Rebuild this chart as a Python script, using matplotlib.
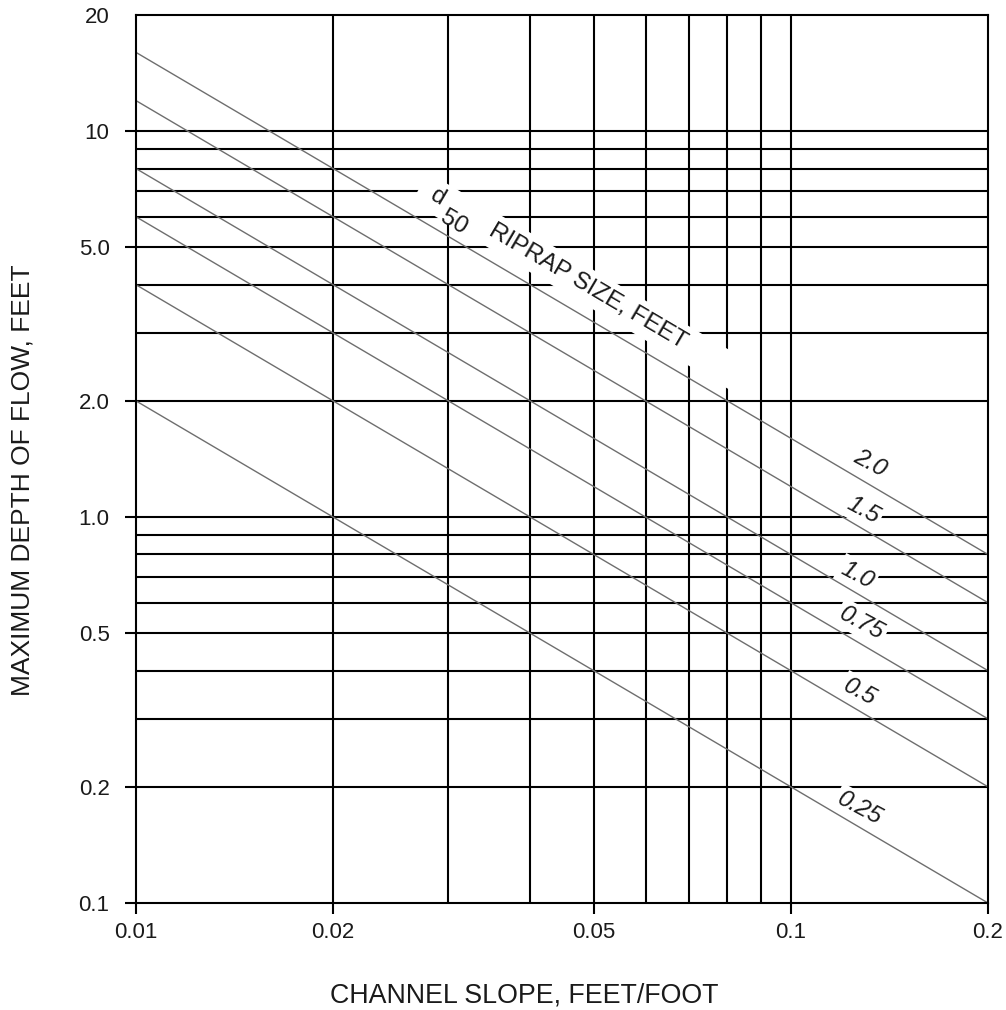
import matplotlib
matplotlib.use("Agg")
import matplotlib.pyplot as plt
from matplotlib.ticker import NullLocator, FixedLocator, FixedFormatter

plt.rcParams['font.family'] = ['Liberation Sans', 'DejaVu Sans']

# ---- data ----
d50_sizes = [2.0, 1.5, 1.0, 0.75, 0.5, 0.25]
d50_labels = ["2.0", "1.5", "1.0", "0.75", "0.5", "0.25"]
slope_ends = [0.01, 0.2]
depth_at_001 = [16.0, 12.0, 8.0, 6.0, 4.0, 2.0]
depth_at_02 = [0.8, 0.6, 0.4, 0.3, 0.2, 0.1]
label_x = [0.1321, 0.1289, 0.1262, 0.1284, 0.1275, 0.1275]
label_y = [1.381, 1.043, 0.708, 0.532, 0.352, 0.176]

x_grid = [0.02, 0.03, 0.04, 0.05, 0.06, 0.07, 0.08, 0.09, 0.1]
y_grid = [0.2, 0.3, 0.4, 0.5, 0.6, 0.7, 0.8, 0.9,
          1, 2, 3, 4, 5, 6, 7, 8, 9, 10]
x_ticks = [0.01, 0.02, 0.05, 0.1, 0.2]
x_ticklabels = ["0.01", "0.02", "0.05", "0.1", "0.2"]
y_ticks = [0.1, 0.2, 0.5, 1, 2, 5, 10, 20]
y_ticklabels = ["0.1", "0.2", "0.5", "1.0", "2.0", "5.0", "10", "20"]

fig = plt.figure(figsize=(10.06, 10.10), dpi=100)
ax = fig.add_axes([136/1006, 107/1010, 852/1006, 888/1010])
ax.set_xscale('log')
ax.set_yscale('log')
ax.set_xlim(0.01, 0.2)
ax.set_ylim(0.1, 20)

for xv in x_grid:
    ax.axvline(xv, color='black', lw=1.5, zorder=1)
for yv in y_grid:
    ax.axhline(yv, color='black', lw=1.5, zorder=1)

for d, y0, y1 in zip(d50_sizes, depth_at_001, depth_at_02):
    ax.plot(slope_ends, [y0, y1], color='#6e6e6e', lw=1.0, zorder=4,
            solid_capstyle='butt')

ROT = -30.5
for lab, lx, ly in zip(d50_labels, label_x, label_y):
    ax.text(lx, ly, lab, fontsize=17.5, style='italic', rotation=-28,
            rotation_mode='anchor', ha='center', va='center',
            color='#1a1a1a', zorder=3,
            bbox=dict(boxstyle='square,pad=0.12', fc='white', ec='none'))

# background white band behind the riprap caption
ax.text(0.0480, 4.04, " " * 54, fontsize=17.5, rotation=ROT,
        rotation_mode='anchor', ha='center', va='center', zorder=2,
        bbox=dict(boxstyle='square,pad=0.25', fc='white', ec='none'))
ax.text(0.02892, 6.75, "d", fontsize=17.5, rotation=ROT,
        rotation_mode='anchor', ha='center', va='center', color='#1a1a1a',
        zorder=3)
ax.text(0.0306, 5.78, "50", fontsize=17.5, rotation=ROT,
        rotation_mode='anchor', ha='center', va='center', color='#1a1a1a',
        zorder=3)
ax.text(0.0490, 3.97, "RIPRAP SIZE, FEET", fontsize=17.5, rotation=ROT,
        rotation_mode='anchor', ha='center', va='center', color='#1a1a1a',
        zorder=3)

ax.xaxis.set_major_locator(FixedLocator(x_ticks))
ax.xaxis.set_major_formatter(FixedFormatter(x_ticklabels))
ax.yaxis.set_major_locator(FixedLocator(y_ticks))
ax.yaxis.set_major_formatter(FixedFormatter(y_ticklabels))
ax.xaxis.set_minor_locator(NullLocator())
ax.yaxis.set_minor_locator(NullLocator())
ax.tick_params(axis='both', direction='out', length=8, width=1.5,
               labelsize=16, colors='black', labelcolor='#1a1a1a')
ax.tick_params(axis='x', pad=6)
ax.tick_params(axis='y', pad=11)
ax.yaxis.get_major_ticks()[-1].tick1line.set_visible(False)

for sp in ax.spines.values():
    sp.set_linewidth(1.5)
    sp.set_color('black')
    sp.set_zorder(5)

fig.text(524/1006, 7/1010, "CHANNEL SLOPE, FEET/FOOT", fontsize=19.3,
         ha='center', va='baseline', color='#1a1a1a')
fig.text(23/1006, 1 - 480/1010, "MAXIMUM DEPTH OF FLOW, FEET", fontsize=19,
         rotation=90, ha='center', va='center', color='#1a1a1a')

fig.savefig("out.png", dpi=100)
